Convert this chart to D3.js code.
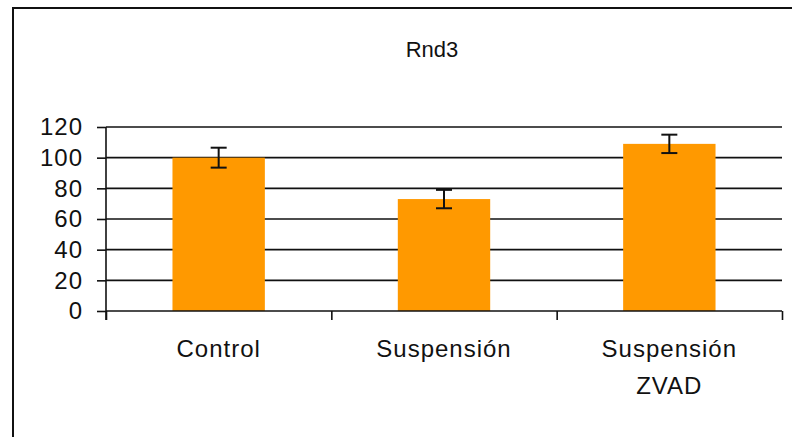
<!DOCTYPE html>
<html>
<head>
<meta charset="utf-8">
<script src="https://cdn.jsdelivr.net/npm/d3@7/dist/d3.min.js"></script>
<style>
  html, body { margin: 0; padding: 0; background: #fff; }
  svg { display: block; }
  text { font-family: "Liberation Sans", Arial, sans-serif; fill: #111; }
</style>
</head>
<body>
<script>
const title = "Rnd3";
const categories = ["Control", "Suspensión", "Suspensión ZVAD"];
const categoryLines = [["Control"], ["Suspensión"], ["Suspensión", "ZVAD"]];
const values = [100, 73, 109];
const errors = [6.5, 6, 6];
const yTicks = [0, 20, 40, 60, 80, 100, 120];

const W = 792, H = 437;
const m = { left: 106, right: 782, top: 127, bottom: 311 };

const svg = d3.select("body").append("svg").attr("width", W).attr("height", H);

// outer frame (left & top edges visible)
svg.append("path")
  .attr("d", "M13,437 L13,8 L792,8")
  .attr("fill", "none").attr("stroke", "#111").attr("stroke-width", 2);

// title
svg.append("text")
  .attr("x", 432).attr("y", 57)
  .attr("text-anchor", "middle")
  .style("font-size", "22px")
  .text(title);

const y = d3.scaleLinear().domain([0, 120]).range([m.bottom, m.top]);
const x = d3.scaleBand().domain(categories).range([m.left, m.right])
  .paddingInner(0.59).paddingOuter(0.295);
const xb = d3.scaleLinear().domain([0, categories.length]).range([m.left, m.right]);

// gridlines
svg.append("g").selectAll("line").data(yTicks.filter(d => d > 0)).join("line")
  .attr("x1", m.left).attr("x2", m.right)
  .attr("y1", d => y(d)).attr("y2", d => y(d))
  .attr("stroke", "#111").attr("stroke-width", 1.6);

// bars
svg.append("g").selectAll("rect").data(values).join("rect")
  .attr("x", (d, i) => x(categories[i]))
  .attr("width", x.bandwidth())
  .attr("y", d => y(d))
  .attr("height", d => y(0) - y(d))
  .attr("fill", "#ff9900");

// error bars
const eb = svg.append("g").attr("stroke", "#111").attr("stroke-width", 2);
values.forEach((v, i) => {
  const cx = x(categories[i]) + x.bandwidth() / 2;
  const y1 = y(v + errors[i]), y2 = y(v - errors[i]);
  eb.append("line").attr("x1", cx).attr("x2", cx).attr("y1", y1).attr("y2", y2);
  eb.append("line").attr("x1", cx - 8).attr("x2", cx + 8).attr("y1", y1).attr("y2", y1);
  eb.append("line").attr("x1", cx - 8).attr("x2", cx + 8).attr("y1", y2).attr("y2", y2);
});

// y axis
const yAxis = svg.append("g").attr("transform", `translate(${m.left},0)`)
  .call(d3.axisLeft(y).tickValues(yTicks).tickSize(9).tickPadding(14).tickFormat(d3.format("d")));
yAxis.select(".domain").attr("d", `M0,${m.top}V${m.bottom + 9}`);
yAxis.selectAll("line, path").attr("stroke", "#111").attr("stroke-width", 1.6);
yAxis.selectAll("text").style("font-size", "24px").style("letter-spacing", "1px")
  .attr("font-family", null).attr("fill", "#111");

// x axis (boundary ticks)
const xAxis = svg.append("g").attr("transform", `translate(0,${m.bottom})`)
  .call(d3.axisBottom(xb).tickValues(d3.range(categories.length + 1)).tickSize(9).tickSizeOuter(0).tickFormat(""));
xAxis.select(".domain").attr("d", `M${m.left},0H${m.right}`);
xAxis.selectAll("line, path").attr("stroke", "#111").attr("stroke-width", 1.6);

// category labels
const lbl = svg.append("g");
categories.forEach((c, i) => {
  const cx = x(c) + x.bandwidth() / 2;
  const t = lbl.append("text").attr("text-anchor", "middle")
    .style("font-size", "24px").style("letter-spacing", "1px");
  categoryLines[i].forEach((ln, j) => {
    t.append("tspan").attr("x", cx).attr("y", 357 + j * 37).text(ln);
  });
});
</script>
</body>
</html>
